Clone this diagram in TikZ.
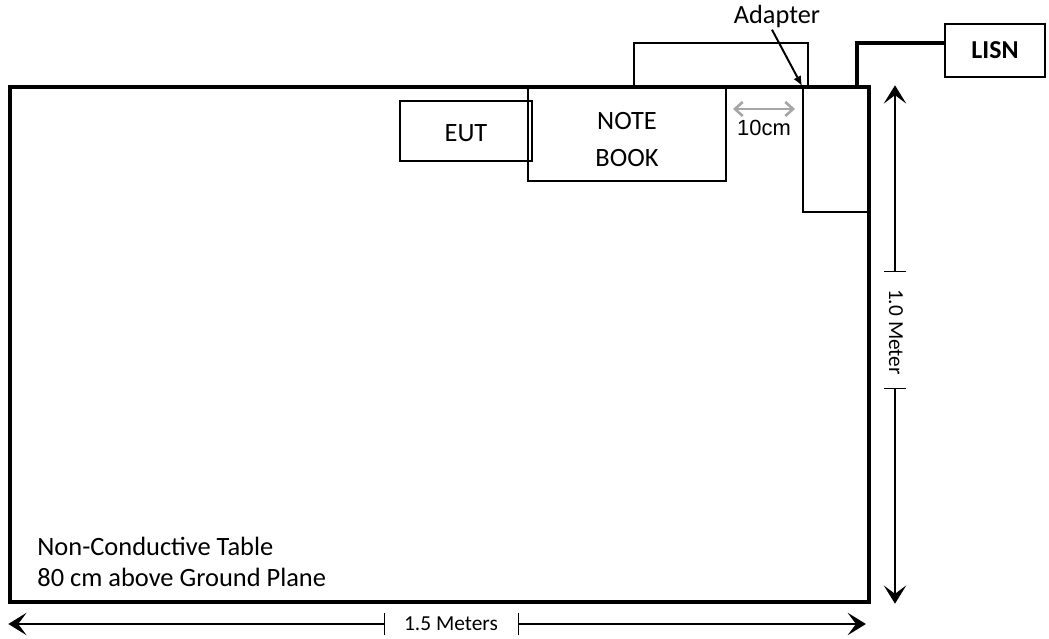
\documentclass[tikz,border=0pt]{standalone}
\usepackage{fontspec}
\setmainfont{Carlito}
\newfontfamily\arialfont{Liberation Sans}
\usetikzlibrary{arrows.meta,positioning}
\definecolor{spacegray}{HTML}{A6A6A6}

\begin{document}
\begin{tikzpicture}
    \tikzstyle{tablebox} = [rectangle, draw=black, line width=2.4pt, inner sep=0pt,
        minimum width=21.475cm, minimum height=12.875cm]
    \tikzstyle{devbox} = [rectangle, draw=black, line width=1.4pt, inner sep=0pt,
        align=center, font=\fontsize{18.8}{26.3}\selectfont]
    \tikzstyle{cable} = [line width=2.6pt]
    \tikzstyle{pointer} = [line width=1.4pt, -{Latex[length=7pt,width=6pt]}]
    \tikzstyle{gap} = [line width=1.9pt, draw=spacegray,
        {Straight Barb[length=5.5pt,width=10pt]}-{Straight Barb[length=5.5pt,width=10pt]}]
    \tikzstyle{dim} = [line width=0.9pt,
        {Bar[width=15pt]}-{Stealth[length=13pt,width=16pt,inset=6pt]}]
    \tikzstyle{dimlabel} = [inner sep=0pt, font=\fontsize{15.2}{18}\selectfont]

    \useasboundingbox (0,0) rectangle (26.225,-15.975);

    % table and devices
    \node (tbl) [tablebox] at (10.9875,-8.6125) {};
    \node (eut) [devbox, minimum width=3.3cm, minimum height=1.5cm,
        text height=15pt, text depth=0pt] at (11.65,-3.275) {EUT};
    \node (nb) [devbox, minimum width=4.95cm, minimum height=2.35cm] at (15.675,-3.35)
        {\rule{0pt}{20.5pt}NOTE\\BOOK};
    \node (lid) [devbox, minimum width=4.35cm, minimum height=1.1cm] at (18.025,-1.625) {};
    \node (adp) [devbox, minimum width=1.65cm, minimum height=3.125cm] at (20.9,-3.7375) {};
    \node (lisn) [devbox, font=\fontsize{18.4}{22}\selectfont\bfseries,
        minimum width=2.5cm, minimum height=1.325cm] at (24.875,-1.2625) {LISN};

    \node (note) [anchor=south west, align=left, inner sep=0pt,
        font=\fontsize{18.8}{22}\selectfont] at ([shift={(0.72,0.41)}]tbl.south west)
        {Non-Conductive Table\\80 cm above Ground Plane};

    % power cable to the LISN
    \draw [cable] ([xshift=0.525cm]adp.north) |- ([yshift=0.1875cm]lisn.west);

    % adapter label
    \node (adlab) [inner sep=1pt, font=\fontsize{18.7}{22}\selectfont] at (19.425,-0.42) {Adapter};
    \draw [pointer] ([xshift=-0.125cm]adlab.south) -- (adp.north west);

    % 10 cm spacing
    \coordinate (g1) at (18.325,-2.725);
    \draw [gap] (g1) -- ([xshift=-0.175cm]g1 -| adp.west)
        node [midway, below=0.25cm, inner sep=0pt, text=black,
        font=\fontsize{15.6}{18}\selectfont\arialfont] {10cm};

    % dimensions
    \coordinate (v1) at (22.375,-6.8);
    \coordinate (v2) at (22.375,-9.7);
    \draw [dim] (v1) -- (v1 |- tbl.north);
    \draw [dim] (v2) -- (v2 |- tbl.south);
    \node (vlab) [dimlabel, rotate=-90] at (22.4,-8.3) {1.0 Meter};

    \coordinate (h1) at (9.625,-15.6);
    \coordinate (h2) at (12.95,-15.6);
    \draw [dim] (h1) -- (h1 -| tbl.west);
    \draw [dim, shorten >=0.12cm] (h2) -- (h2 -| tbl.east);
    \node (hlab) [dimlabel] at (11.275,-15.6) {1.5 Meters};
\end{tikzpicture}
\end{document}
